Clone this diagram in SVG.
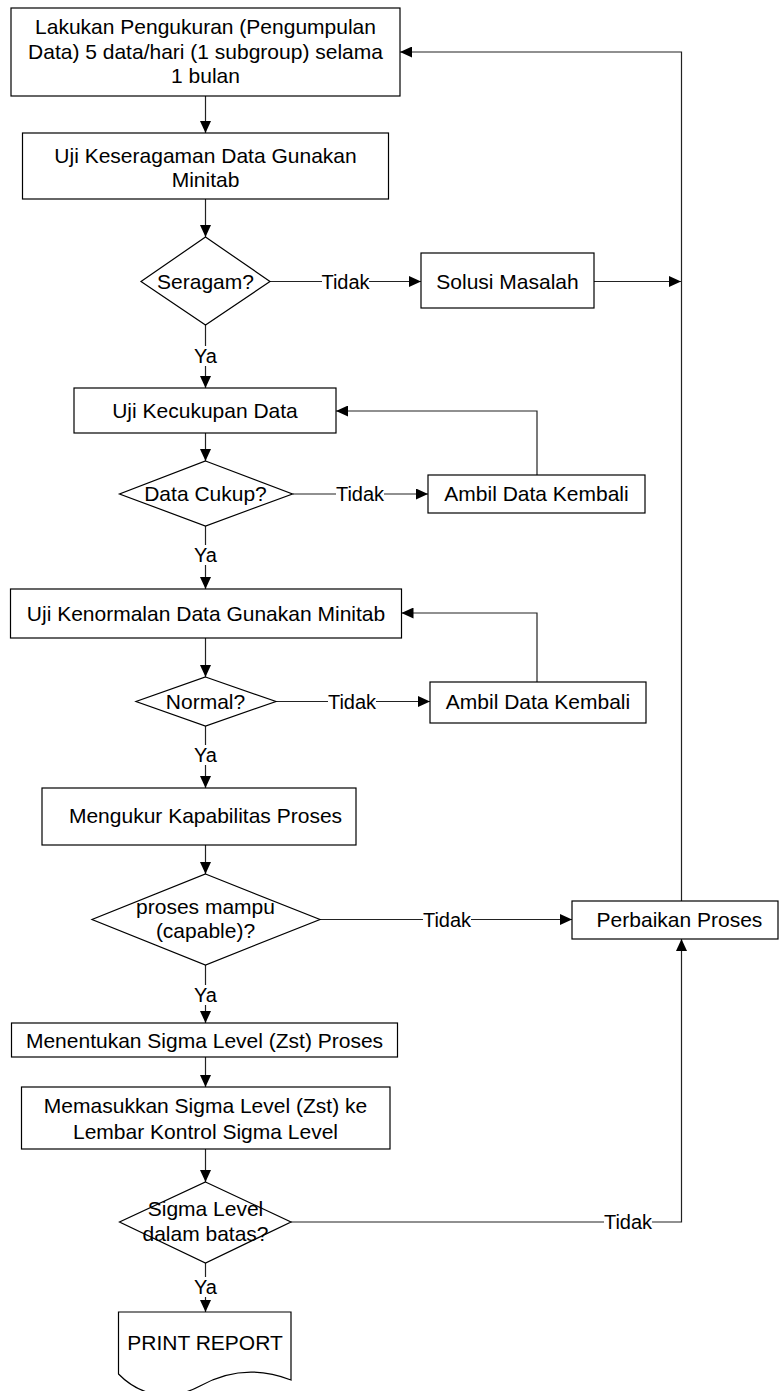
<svg xmlns="http://www.w3.org/2000/svg" width="779" height="1391" viewBox="0 0 779 1391">
  <style>
    .box { fill: #fff; stroke: #000; stroke-width: 1.2; }
    .node { font-family: "Liberation Sans", Arial, sans-serif; font-size: 21px; fill: #000; text-anchor: middle; }
    .lbl { font-family: "Liberation Sans", Arial, sans-serif; font-size: 20px; fill: #000; text-anchor: middle; }
    .wire { fill: none; stroke: #222; stroke-width: 1.2; }
    .gap { fill: #fff; }
  </style>
  <defs>
    <marker id="arrow" markerUnits="userSpaceOnUse" markerWidth="12" markerHeight="11" refX="12" refY="5.5" orient="auto">
      <path d="M0,0 L12,5.5 L0,11 z" fill="#000"/>
    </marker>
  </defs>
  <rect width="779" height="1391" fill="#fff"/>

  <g id="connectors">
    <line class="wire" x1="205.5" y1="96" x2="205.5" y2="133" marker-end="url(#arrow)"/>
    <line class="wire" x1="205.5" y1="199" x2="205.5" y2="237" marker-end="url(#arrow)"/>
    <line class="wire" x1="270" y1="281.5" x2="421" y2="281.5" marker-end="url(#arrow)"/>
    <line class="wire" x1="594" y1="281.5" x2="681" y2="281.5" marker-end="url(#arrow)"/>
    <line class="wire" x1="205.5" y1="325" x2="205.5" y2="388" marker-end="url(#arrow)"/>
    <line class="wire" x1="205.5" y1="433" x2="205.5" y2="461" marker-end="url(#arrow)"/>
    <line class="wire" x1="292.5" y1="494" x2="428" y2="494" marker-end="url(#arrow)"/>
    <polyline class="wire" points="537,475 537,411 336,411" marker-end="url(#arrow)"/>
    <line class="wire" x1="205.5" y1="526" x2="205.5" y2="589" marker-end="url(#arrow)"/>
    <line class="wire" x1="205.5" y1="638" x2="205.5" y2="677" marker-end="url(#arrow)"/>
    <line class="wire" x1="276" y1="701.5" x2="430" y2="701.5" marker-end="url(#arrow)"/>
    <polyline class="wire" points="537,682 537,613 401.5,613" marker-end="url(#arrow)"/>
    <line class="wire" x1="205.5" y1="726" x2="205.5" y2="788" marker-end="url(#arrow)"/>
    <line class="wire" x1="205.5" y1="845" x2="205.5" y2="874" marker-end="url(#arrow)"/>
    <line class="wire" x1="320" y1="919.5" x2="572" y2="919.5" marker-end="url(#arrow)"/>
    <line class="wire" x1="205.5" y1="965" x2="205.5" y2="1023" marker-end="url(#arrow)"/>
    <line class="wire" x1="205.5" y1="1057" x2="205.5" y2="1087" marker-end="url(#arrow)"/>
    <line class="wire" x1="205.5" y1="1149" x2="205.5" y2="1182" marker-end="url(#arrow)"/>
    <polyline class="wire" points="291,1222 681.5,1222 681.5,939" marker-end="url(#arrow)"/>
    <line class="wire" x1="205.5" y1="1263" x2="205.5" y2="1312" marker-end="url(#arrow)"/>
    <polyline class="wire" points="681.5,901 681.5,52 400,52" marker-end="url(#arrow)"/>

    <!-- connector labels -->
    <g id="labels">
      <rect class="gap" x="322" y="272" width="47" height="20"/>
      <text class="lbl" x="345.5" y="288.5">Tidak</text>
      <rect class="gap" x="194" y="346" width="23" height="20"/>
      <text class="lbl" x="205.5" y="363">Ya</text>
      <rect class="gap" x="336" y="484" width="48" height="20"/>
      <text class="lbl" x="360" y="501">Tidak</text>
      <rect class="gap" x="194" y="545" width="23" height="20"/>
      <text class="lbl" x="205.5" y="562">Ya</text>
      <rect class="gap" x="328" y="692" width="48" height="20"/>
      <text class="lbl" x="352" y="708.5">Tidak</text>
      <rect class="gap" x="194" y="745" width="23" height="20"/>
      <text class="lbl" x="205.5" y="762">Ya</text>
      <rect class="gap" x="423" y="910" width="48" height="20"/>
      <text class="lbl" x="447" y="926.5">Tidak</text>
      <rect class="gap" x="194" y="985" width="23" height="20"/>
      <text class="lbl" x="205.5" y="1002">Ya</text>
      <rect class="gap" x="604" y="1212" width="48" height="20"/>
      <text class="lbl" x="628" y="1229">Tidak</text>
      <rect class="gap" x="194" y="1277" width="23" height="20"/>
      <text class="lbl" x="205.5" y="1294">Ya</text>
    </g>
  </g>

  <g id="n-pengukuran">
    <rect class="box" x="11" y="8" width="389" height="88"/>
    <text class="node" x="205.5" y="34">Lakukan Pengukuran (Pengumpulan</text>
    <text class="node" x="205.5" y="59">Data) 5 data/hari (1 subgroup) selama</text>
    <text class="node" x="205.5" y="83">1 bulan</text>
  </g>

  <g id="n-keseragaman">
    <rect class="box" x="22.5" y="133" width="366" height="66"/>
    <text class="node" x="205.5" y="163">Uji Keseragaman Data Gunakan</text>
    <text class="node" x="205.5" y="187">Minitab</text>
  </g>

  <g id="d-seragam">
    <polygon class="box" points="205.5,237 270,281.5 205.5,325 141,281.5"/>
    <text class="node" x="205.5" y="288.5">Seragam?</text>
  </g>

  <g id="n-solusi">
    <rect class="box" x="421" y="253" width="173" height="55"/>
    <text class="node" x="507.5" y="288.5">Solusi Masalah</text>
  </g>

  <g id="n-kecukupan">
    <rect class="box" x="74" y="388" width="262" height="45"/>
    <text class="node" x="205" y="418">Uji Kecukupan Data</text>
  </g>

  <g id="d-cukup">
    <polygon class="box" points="205.5,461 292.5,494 205.5,526 119.5,494"/>
    <text class="node" x="205.5" y="501">Data Cukup?</text>
  </g>

  <g id="n-ambil-1">
    <rect class="box" x="428" y="475" width="217" height="38"/>
    <text class="node" x="536.5" y="501">Ambil Data Kembali</text>
  </g>

  <g id="n-kenormalan">
    <rect class="box" x="10.5" y="589" width="391" height="49"/>
    <text class="node" x="206" y="621">Uji Kenormalan Data Gunakan Minitab</text>
  </g>

  <g id="d-normal">
    <polygon class="box" points="205.5,677 276,701.5 205.5,726 136,701.5"/>
    <text class="node" x="205.5" y="709">Normal?</text>
  </g>

  <g id="n-ambil-2">
    <rect class="box" x="430" y="682" width="216" height="41"/>
    <text class="node" x="538" y="709">Ambil Data Kembali</text>
  </g>

  <g id="n-kapabilitas">
    <rect class="box" x="42" y="788" width="314" height="57"/>
    <text class="node" x="205.5" y="823">Mengukur Kapabilitas Proses</text>
  </g>

  <g id="d-mampu">
    <polygon class="box" points="205.5,874 320,919.5 205.5,965 92,919.5"/>
    <text class="node" x="205.5" y="914">proses mampu</text>
    <text class="node" x="205.5" y="938">(capable)?</text>
  </g>

  <g id="n-perbaikan">
    <rect class="box" x="572" y="901" width="206" height="38"/>
    <text class="node" x="679.5" y="927">Perbaikan Proses</text>
  </g>

  <g id="n-sigma-level">
    <rect class="box" x="11.5" y="1023" width="386" height="34"/>
    <text class="node" x="204.5" y="1047.5">Menentukan Sigma Level (Zst) Proses</text>
  </g>

  <g id="n-lembar-kontrol">
    <rect class="box" x="21.5" y="1087" width="368.5" height="62"/>
    <text class="node" x="205.5" y="1113">Memasukkan Sigma Level (Zst) ke</text>
    <text class="node" x="205.5" y="1139">Lembar Kontrol Sigma Level</text>
  </g>

  <g id="d-batas">
    <polygon class="box" points="205.5,1182 291,1222 205.5,1263 119.5,1222"/>
    <text class="node" x="205.5" y="1216">Sigma Level</text>
    <text class="node" x="205.5" y="1241">dalam batas?</text>
  </g>

  <g id="n-print-report">
    <path class="box" d="M118.5,1312 H291 V1380 C255,1366 225,1372 200,1386 C170,1402 140,1396 118.5,1374 Z"/>
    <text class="node" x="205" y="1350">PRINT REPORT</text>
  </g>
</svg>
